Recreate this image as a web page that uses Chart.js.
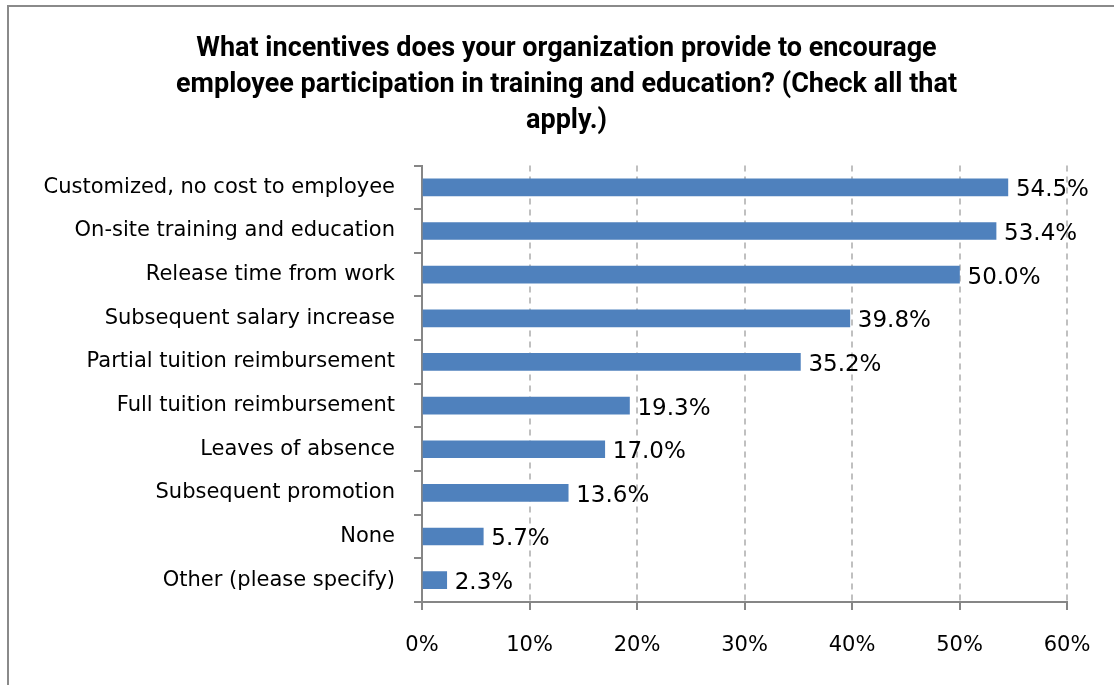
<!DOCTYPE html>
<html>
<head>
<meta charset="utf-8">
<script src="https://cdn.jsdelivr.net/npm/chart.js@4"></script>
<style>
  html, body { margin: 0; padding: 0; background: #fff; }
  #wrap { position: relative; width: 1114px; height: 685px; overflow: hidden; }
  #frame { position: absolute; left: 7px; top: 5px; width: 1200px; height: 800px; border-left: 2px solid #8a8a8a; border-top: 2px solid #8a8a8a; }
  canvas { position: absolute; left: 0; top: 0; }
</style>
</head>
<body>
<div id="wrap">
  <div id="frame"></div>
  <canvas id="chart" width="1114" height="685"></canvas>
</div>
<script>
const titleLines = [
    'What incentives does your organization provide to encourage',
    'employee participation in training and education? (Check all that',
    'apply.)'
];
const categories = [
    'Customized, no cost to employee',
    'On-site training and education',
    'Release time from work',
    'Subsequent salary increase',
    'Partial tuition reimbursement',
    'Full tuition reimbursement',
    'Leaves of absence',
    'Subsequent promotion',
    'None',
    'Other (please specify)'
];
const percentValues = [54.5, 53.4, 50.0, 39.8, 35.2, 19.3, 17.0, 13.6, 5.7, 2.3];
const xTicks = [0, 10, 20, 30, 40, 50, 60];

const labelFont = '"DejaVu Sans", sans-serif';

// draws the value next to each bar end
const valueLabels = {
    id: 'valueLabels',
    afterDatasetsDraw(chart) {
        const ctx = chart.ctx;
        const meta = chart.getDatasetMeta(0);
        ctx.save();
        ctx.font = '23px ' + labelFont;
        ctx.fillStyle = '#000';
        ctx.textAlign = 'left';
        ctx.textBaseline = 'middle';
        meta.data.forEach((bar, i) => {
            ctx.fillText(percentValues[i].toFixed(1) + '%', bar.x + 8, bar.y + 3);
        });
        ctx.restore();
    }
};

// title sits a bit right of the plot centre in the original
const titleShift = {
    id: 'titleShift',
    afterLayout(chart) {
        const t = chart.titleBlock;
        if (t) { t.left += 28; t.right += 28; }
    }
};

new Chart(document.getElementById('chart').getContext('2d'), {
    type: 'bar',
    data: {
        labels: categories,
        datasets: [{
            data: percentValues,
            backgroundColor: '#4f81bd',
            borderWidth: 0,
            barThickness: 17
        }]
    },
    plugins: [valueLabels, titleShift],
    options: {
        indexAxis: 'y',
        responsive: false,
        animation: false,
        layout: { padding: { left: 10, right: 47, top: 0, bottom: 0 } },
        plugins: {
            legend: { display: false },
            tooltip: { enabled: false },
            title: {
                display: true,
                text: titleLines,
                color: '#000',
                font: { family: '"Roboto", sans-serif', size: 27, weight: 'bold', lineHeight: 1.34 },
                padding: { top: 31, bottom: 26 }
            }
        },
        scales: {
            x: {
                min: 0,
                max: 60,
                afterBuildTicks: (scale) => { scale.ticks = xTicks.map(v => ({ value: v })); },
                afterFit: (scale) => { scale.height = 83; },
                ticks: {
                    color: '#000',
                    font: { family: labelFont, size: 21 },
                    padding: 23,
                    callback: (v) => v + '%'
                },
                grid: {
                    color: '#c0c0c0',
                    lineWidth: 2,
                    tickColor: '#868686',
                    tickLength: 8
                },
                border: { color: '#868686', width: 2, dash: [6, 5] }
            },
            y: {
                afterFit: (scale) => { scale.width = 412; },
                ticks: {
                    color: '#000',
                    font: { family: labelFont, size: 21 },
                    padding: 19
                },
                grid: {
                    drawOnChartArea: false,
                    color: '#868686',
                    lineWidth: 2,
                    tickLength: 8
                },
                border: { color: '#868686', width: 2 }
            }
        }
    }
});
</script>
</body>
</html>
